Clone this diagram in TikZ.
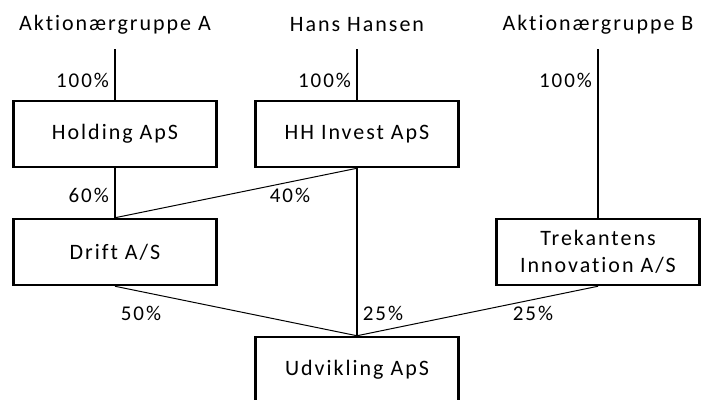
\documentclass[tikz,border=0pt]{standalone}
\usepackage{fontspec}
\setmainfont[LetterSpace=9, Ligatures={NoCommon}]{Carlito}
\usetikzlibrary{positioning}

\tikzset{
    company/.style={draw, line width=2.5pt, minimum width=203pt, minimum height=66pt,
        inner sep=0pt, align=center, font=\fontsize{22}{27}\selectfont},
    owner/.style={font=\fontsize{22}{27}\selectfont},
    pct/.style={font=\fontsize{21}{25}\selectfont, inner sep=1pt},
    own/.style={line width=2pt},
    part/.style={line width=1pt}
}

\begin{document}
\begin{tikzpicture}[x=1pt, y=-1pt]
    \useasboundingbox (0,0) rectangle (701,399);
    % owners at the top
    \node[owner] (grpA) at (115,25) {Aktionærgruppe A};
    \node[owner] (hans) at (357,25) {Hans Hansen};
    \node[owner] (grpB) at (598,25) {Aktionærgruppe B};
    \coordinate (topA) at (115,49);
    \coordinate (topH) at (357,49);
    \coordinate (topB) at (598,49);
    % companies
    \node[company] (hold) at (115,134) {Holding ApS};
    \node[company] (hhinv) at (357,134) {HH Invest ApS};
    \node[company] (drift) at (115,252) {Drift A/S};
    \node[company] (trek) at (598,252) {Trekantens\\Innovation A/S};
    \node[company] (udv) at (357,370) {Udvikling ApS};
    % ownership lines
    \draw[own] (topA) -- (hold.north);
    \draw[own] (topH) -- (hhinv.north);
    \draw[own] (topB) -- (trek.north);
    \draw[own] (hold.south) -- (drift.north);
    \draw[own] (hhinv.south) -- (udv.north);
    \draw[part] (hhinv.south) -- (drift.north);
    \draw[part] (drift.south) -- (udv.north);
    \draw[part] (trek.south) -- (udv.north);
    % shares
    \node[pct, anchor=east] at (110,80) {100\%};
    \node[pct, anchor=east] at (352,80) {100\%};
    \node[pct, anchor=east] at (593,80) {100\%};
    \node[pct, anchor=east] at (110,195) {60\%};
    \node[pct] at (290,195) {40\%};
    \node[pct] at (141,313) {50\%};
    \node[pct] at (383,313) {25\%};
    \node[pct] at (533,313) {25\%};
\end{tikzpicture}
\end{document}
